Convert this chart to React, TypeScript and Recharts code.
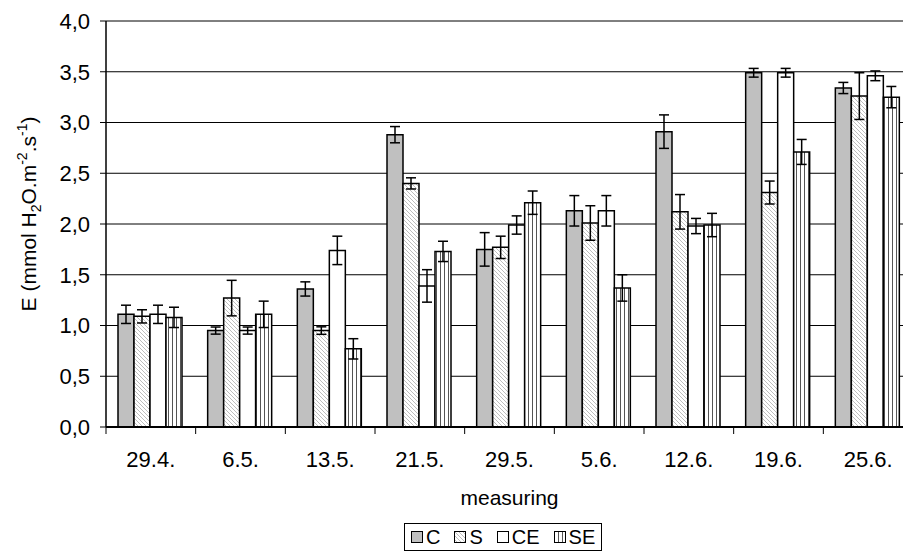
import React from 'react';
import { BarChart, Bar, XAxis, YAxis, CartesianGrid, ErrorBar, Legend, Label } from 'recharts';

const dates = ['29.4.', '6.5.', '13.5.', '21.5.', '29.5.', '5.6.', '12.6.', '19.6.', '25.6.'];

const cValues = [1.11, 0.95, 1.36, 2.88, 1.75, 2.13, 2.91, 3.49, 3.34];
const cErr = [0.09, 0.035, 0.07, 0.08, 0.165, 0.15, 0.165, 0.043, 0.055];
const sValues = [1.09, 1.27, 0.95, 2.4, 1.77, 2.01, 2.12, 2.31, 3.26];
const sErr = [0.065, 0.175, 0.037, 0.055, 0.11, 0.17, 0.17, 0.113, 0.23];
const ceValues = [1.11, 0.95, 1.74, 1.39, 1.99, 2.13, 1.98, 3.49, 3.46];
const ceErr = [0.09, 0.035, 0.14, 0.16, 0.09, 0.15, 0.075, 0.043, 0.048];
const seValues = [1.08, 1.11, 0.77, 1.73, 2.21, 1.37, 1.99, 2.71, 3.25];
const seErr = [0.1, 0.13, 0.1, 0.1, 0.115, 0.13, 0.115, 0.123, 0.105];

const yTicks = [0, 0.5, 1, 1.5, 2, 2.5, 3, 3.5, 4];

const data = dates.map((date, i) => ({
  date,
  C: cValues[i],
  cErr: cErr[i],
  S: sValues[i],
  sErr: sErr[i],
  CE: ceValues[i],
  ceErr: ceErr[i],
  SE: seValues[i],
  seErr: seErr[i],
}));

const series = [
  { key: 'C', err: 'cErr', fill: '#c0c0c0' },
  { key: 'S', err: 'sErr', fill: 'url(#hatchS)' },
  { key: 'CE', err: 'ceErr', fill: '#ffffff' },
  { key: 'SE', err: 'seErr', fill: 'url(#stripeSE)' },
];

const FONT = "'Liberation Sans', Arial, sans-serif";
const CHART_W = 913;
const Y_W = 106;
const BAND = (CHART_W - Y_W) / dates.length;

const DateTick = (props: any) => {
  const { x, y, payload } = props;
  const bx = x - BAND / 2;
  return (
    <g>
      <line x1={bx} x2={bx} y1={y - 24} y2={y - 17} stroke="#000" strokeWidth={1} />
      <text x={x} y={y} dy="0.71em" textAnchor="middle" fontSize={22} fill="#000" fontFamily={FONT}>
        {payload.value}
      </text>
    </g>
  );
};

const YTitle = (props: any) => {
  const vb = props.viewBox || { x: 0, y: 21, width: 106, height: 406 };
  const cx = vb.x + 36;
  const cy = vb.y + vb.height / 2 - 10;
  return (
    <text
      x={cx}
      y={cy}
      transform={`rotate(-90, ${cx}, ${cy})`}
      textAnchor="middle"
      fontSize={21}
      fill="#000"
      fontFamily={FONT}
    >
      E (mmol H
      <tspan dy={5} fontSize={14}>2</tspan>
      <tspan dy={-5}>O.m</tspan>
      <tspan dy={-9} fontSize={14}>-2</tspan>
      <tspan dy={9}>.s</tspan>
      <tspan dy={-9} fontSize={14}>-1</tspan>
      <tspan dy={9}>)</tspan>
    </text>
  );
};

const XTitle = (props: any) => {
  const vb = props.viewBox || { x: 106, y: 427, width: 807, height: 126 };
  return (
    <text x={vb.x + vb.width / 2} y={vb.y + 78} textAnchor="middle" fontSize={21} fill="#000" fontFamily={FONT}>
      measuring
    </text>
  );
};

const renderLegend = () => (
  <div
    style={{
      display: 'flex',
      alignItems: 'center',
      border: '1px solid #000',
      padding: '2px 6px',
      fontSize: 20,
      lineHeight: '22px',
      background: '#fff',
      color: '#000',
      fontFamily: FONT,
    }}
  >
    {series.map((s, i) => (
      <div key={s.key} style={{ display: 'flex', alignItems: 'center', marginLeft: i === 0 ? 0 : 14 }}>
        <svg width={12} height={12}>
          <rect x={0.5} y={0.5} width={11} height={11} fill={s.fill} stroke="#000" strokeWidth={1} />
        </svg>
        <span style={{ marginLeft: 3 }}>{s.key}</span>
      </div>
    ))}
  </div>
);

export default function App() {
  return (
    <div
      style={{
        position: 'absolute',
        left: 0,
        top: 0,
        width: 903,
        height: 553,
        overflow: 'hidden',
        background: '#fff',
        fontFamily: FONT,
      }}
    >
      <BarChart
        width={CHART_W}
        height={553}
        data={data}
        margin={{ top: 21, right: 0, left: 0, bottom: 0 }}
        barCategoryGap={12}
        barGap={0}
      >
        <defs>
          <pattern id="hatchS" patternUnits="userSpaceOnUse" width={4} height={4}>
            <rect width={4} height={4} fill="#fff" />
            <path d="M-1,-1 L5,5 M3,-1 L5,1 M-1,3 L1,5" stroke="#bdbdbd" strokeWidth={1} />
          </pattern>
          <pattern id="stripeSE" patternUnits="userSpaceOnUse" width={4} height={4}>
            <rect width={4} height={4} fill="#fff" />
            <line x1={0.5} y1={0} x2={0.5} y2={4} stroke="#555" strokeWidth={1} />
          </pattern>
        </defs>
        <CartesianGrid vertical={false} stroke="#000" strokeWidth={1} />
        <XAxis
          dataKey="date"
          height={126}
          axisLine={{ stroke: '#000', strokeWidth: 2 }}
          tickLine={{ stroke: 'none' }}
          tickSize={7}
          tickMargin={17}
          tick={<DateTick />}
          interval={0}
        >
          <Label content={<XTitle />} />
        </XAxis>
        <YAxis
          width={Y_W}
          domain={[0, 4]}
          ticks={yTicks}
          allowDataOverflow
          axisLine={{ stroke: '#000', strokeWidth: 1.5 }}
          tickLine={{ stroke: '#000' }}
          tickSize={6}
          tickMargin={10}
          tick={{ fontSize: 22, fill: '#000', fontFamily: FONT }}
          tickFormatter={(v: number) => v.toFixed(1).replace('.', ',')}
        >
          <Label content={<YTitle />} />
        </YAxis>
        <Legend
          verticalAlign="middle"
          align="center"
          layout="horizontal"
          wrapperStyle={{ left: 404, top: 523, width: 'auto', height: 'auto' }}
          content={renderLegend}
        />
        {series.map((s) => (
          <Bar key={s.key} dataKey={s.key} fill={s.fill} stroke="#000" strokeWidth={1.5} isAnimationActive={false}>
            <ErrorBar dataKey={s.err} width={5} stroke="#000" strokeWidth={1.5} />
          </Bar>
        ))}
      </BarChart>
    </div>
  );
}
